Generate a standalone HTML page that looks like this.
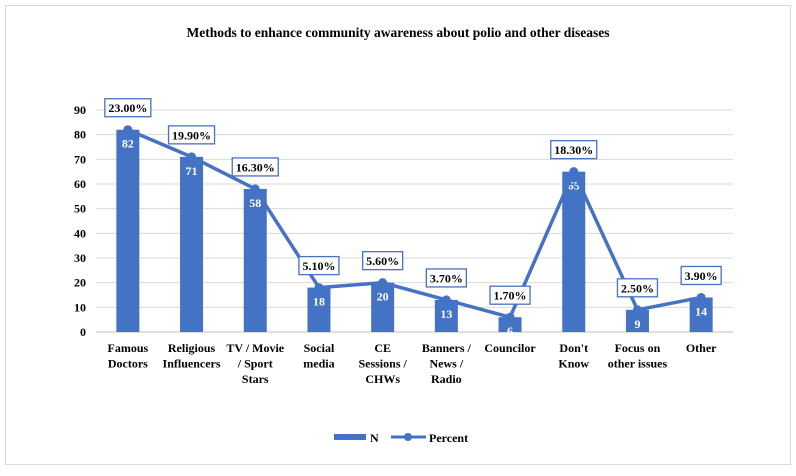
<!DOCTYPE html>
<html><head><meta charset="utf-8"><style>
body{margin:0;background:#fff;font-family:"Liberation Serif",serif;}
svg text{font-family:"Liberation Serif",serif;}
</style></head><body>
<svg width="796" height="471" viewBox="0 0 796 471">
<rect x="5.5" y="5.5" width="785" height="459" fill="#fff" stroke="#d9d9d9"/>
<text x="398" y="37" text-anchor="middle" font-size="13.5" font-weight="bold" fill="#000">Methods to enhance community awareness about polio and other diseases</text>
<g id="grid"></g><g id="bars"></g><g id="line"></g><g id="labels"></g>
<g>
<rect x="334" y="434" width="32" height="6" fill="#4472c4"/>
<text x="370" y="442" font-size="12" font-weight="bold">N</text>
<line x1="391" y1="437" x2="426" y2="437" stroke="#4472c4" stroke-width="3"/>
<circle cx="408" cy="437" r="4" fill="#4472c4"/>
<text x="429" y="442" font-size="12" font-weight="bold">Percent</text>
</g>
</svg>
<script>
const categories=[["Famous","Doctors"],["Religious","Influencers"],["TV / Movie","/ Sport","Stars"],["Social","media"],["CE","Sessions /","CHWs"],["Banners /","News /","Radio"],["Councilor"],["Don't","Know"],["Focus on","other issues"],["Other"]];
const nValues=[82,71,58,18,20,13,6,65,9,14];
const percentLabels=["23.00%","19.90%","16.30%","5.10%","5.60%","3.70%","1.70%","18.30%","2.50%","3.90%"];
const yTicks=[0,10,20,30,40,50,60,70,80,90];
const NS="http://www.w3.org/2000/svg";
const x0=96,x1=733,yBase=332,yTop=110,yMax=90;
const step=(x1-x0)/categories.length;
const xs=i=>x0+step*(i+0.5);
const ys=v=>yBase-(v/yMax)*(yBase-yTop);
function mk(tag,attrs,parent){const e=document.createElementNS(NS,tag);for(const k in attrs)e.setAttribute(k,attrs[k]);parent.appendChild(e);return e;}
const grid=document.getElementById('grid'),bars=document.getElementById('bars'),line=document.getElementById('line'),labels=document.getElementById('labels');
yTicks.forEach(t=>{
 const l=mk('line',{x1:x0,x2:x1,y1:ys(t),y2:ys(t),stroke:t===0?'#bfbfbf':'#d9d9d9','stroke-width':1},grid);
 
 
 const tx=mk('text',{x:86,y:ys(t)+4,'text-anchor':'end','font-size':12,'font-weight':'bold'},grid);
 tx.textContent=t;
 
 
});
categories.forEach((c,i)=>{
 const bw=23;
 const r=mk('rect',{x:xs(i)-bw/2,y:ys(nValues[i]),width:bw,height:yBase-ys(nValues[i]),fill:'#4472c4'},bars);
 
 
 const v=mk('text',{x:xs(i),y:ys(nValues[i])+18,'text-anchor':'middle','font-size':12,'font-weight':'bold',fill:'#fff'},bars);
 v.textContent=nValues[i];
 
 
 const t=mk('text',{x:xs(i),'text-anchor':'middle','font-size':12,'font-weight':'bold'},bars);
 
 
 c.forEach((s,j)=>{const ts=mk('tspan',{x:xs(i),y:352+j*15.5},t);ts.textContent=s;});
});
const pl=mk('polyline',{points:nValues.map((v,i)=>xs(i)+','+ys(v)).join(' '),fill:'none',stroke:'#4472c4','stroke-width':3.5,'stroke-linejoin':'round'},line);


nValues.forEach((v,i)=>{
 const c=mk('circle',{cx:xs(i),cy:ys(v),r:4.5,fill:'#4472c4'},line);
 
 
 const cy=ys(v)-22;
 const w=percentLabels[i].length>5?46:40;
 const b=mk('rect',{x:xs(i)-w/2,y:cy-9,width:w,height:18,fill:'#fff',stroke:'#4472c4','stroke-width':1.3},labels);
 
 
 const t=mk('text',{x:xs(i),y:cy+4.5,'text-anchor':'middle','font-size':12,'font-weight':'bold'},labels);
 t.textContent=percentLabels[i];
 
 
});
</script>
</body></html>
